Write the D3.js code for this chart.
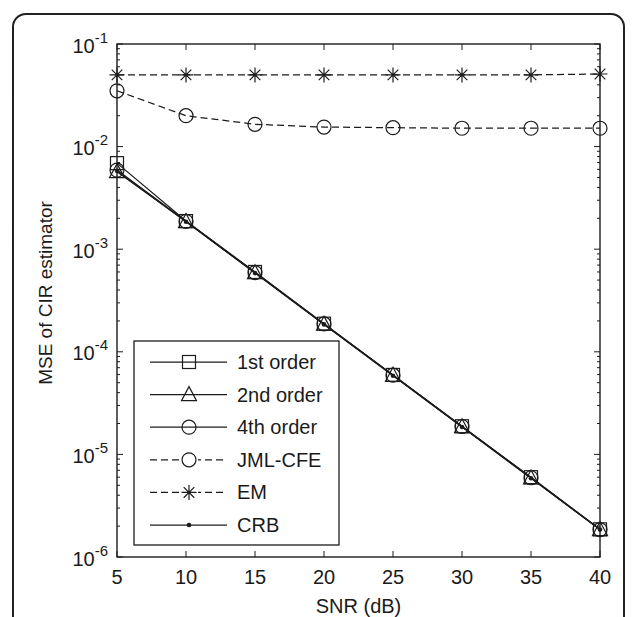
<!DOCTYPE html>
<html>
<head>
<meta charset="utf-8">
<script src="https://cdn.jsdelivr.net/npm/d3@7"></script>
<style>
  html, body { margin: 0; padding: 0; background: #fff; }
  svg { display: block; }
  text { font-family: Arial, "Liberation Sans", Helvetica, sans-serif; fill: #1a1a1a; }
</style>
</head>
<body>
<svg id="chart" width="634" height="617"></svg>
<script>
// SNR values (dB) on the x axis
const snr = [5, 10, 15, 20, 25, 30, 35, 40];

// MSE of the channel impulse response estimator for each method
const firstOrder  = [0.0069, 0.00188, 0.000600, 0.000188, 0.0000595, 0.0000188, 0.00000600, 0.00000186];
const secondOrder = [0.0057, 0.00186, 0.000590, 0.000186, 0.0000590, 0.0000186, 0.00000590, 0.00000185];
const fourthOrder = [0.0059, 0.00187, 0.000592, 0.000187, 0.0000592, 0.0000187, 0.00000592, 0.00000185];
const jmlCfe      = [0.035, 0.020, 0.0165, 0.0155, 0.0153, 0.0151, 0.0151, 0.0151];
const emValues    = [0.050, 0.050, 0.050, 0.050, 0.050, 0.050, 0.050, 0.051];
const crb         = [0.0058, 0.00185, 0.000585, 0.000185, 0.0000585, 0.0000185, 0.00000585, 0.00000185];

const xTicks = [5, 10, 15, 20, 25, 30, 35, 40];
const yExponents = [-1, -2, -3, -4, -5, -6];

const seriesNames = ["1st order", "2nd order", "4th order", "JML-CFE", "EM", "CRB"];
const seriesValues = [firstOrder, secondOrder, fourthOrder, jmlCfe, emValues, crb];
const seriesMarkers = ["square", "triangle", "circle", "circle", "star", "dot"];
const seriesDashed = [false, false, false, true, true, false];

const ink = "#1c1c1c";
const dash = "7,4";
const svg = d3.select("#chart");

// outer rounded frame
svg.append("rect")
  .attr("x", 13).attr("y", 14)
  .attr("width", 611).attr("height", 640)
  .attr("rx", 13).attr("ry", 13)
  .attr("fill", "none").attr("stroke", "#222").attr("stroke-width", 2);

const plot = { left: 117, top: 44, right: 600, bottom: 557 };

const x = d3.scaleLinear().domain([5, 40]).range([plot.left, plot.right]);
const y = d3.scaleLog().domain([1e-6, 1e-1]).range([plot.bottom, plot.top]);

const g = svg.append("g");

// minor ticks for the log axis (inside, on both sides)
const minor = [];
for (let e = -6; e < -1; e++) {
  for (let m = 2; m <= 9; m++) minor.push(m * Math.pow(10, e));
}
const major = yExponents.map(e => Math.pow(10, e));

function tickLines(values, len, side) {
  g.selectAll(null).data(values).enter().append("line")
    .attr("x1", side === "left" ? plot.left : plot.right)
    .attr("x2", side === "left" ? plot.left + len : plot.right - len)
    .attr("y1", d => y(d)).attr("y2", d => y(d))
    .attr("stroke", ink).attr("stroke-width", 1);
}
tickLines(minor, 3, "left");
tickLines(minor, 3, "right");
tickLines(major, 6, "left");
tickLines(major, 6, "right");

// x ticks (inside, top and bottom)
g.selectAll(null).data(xTicks).enter().append("line")
  .attr("x1", d => x(d)).attr("x2", d => x(d))
  .attr("y1", plot.bottom).attr("y2", plot.bottom - 6)
  .attr("stroke", ink).attr("stroke-width", 1);
g.selectAll(null).data(xTicks).enter().append("line")
  .attr("x1", d => x(d)).attr("x2", d => x(d))
  .attr("y1", plot.top).attr("y2", plot.top + 6)
  .attr("stroke", ink).attr("stroke-width", 1);

// axes box
g.append("rect")
  .attr("x", plot.left).attr("y", plot.top)
  .attr("width", plot.right - plot.left).attr("height", plot.bottom - plot.top)
  .attr("fill", "none").attr("stroke", ink).attr("stroke-width", 1.4);

// x tick labels
g.selectAll(null).data(xTicks).enter().append("text")
  .attr("x", d => x(d)).attr("y", plot.bottom + 27)
  .attr("text-anchor", "middle").attr("font-size", 20)
  .text(d => d);

// y tick labels: 10 with a superscript exponent
yExponents.forEach(e => {
  const t = g.append("text")
    .attr("x", plot.left - 9).attr("y", y(Math.pow(10, e)) + 8.5)
    .attr("text-anchor", "end").attr("font-size", 20);
  t.append("tspan").text("10");
  t.append("tspan").attr("dy", -10).attr("font-size", 15).text(e);
});

// axis titles
svg.append("text")
  .attr("x", (plot.left + plot.right) / 2).attr("y", 613)
  .attr("text-anchor", "middle").attr("font-size", 20)
  .text("SNR (dB)");
svg.append("text")
  .attr("transform", `translate(52,293) rotate(-90)`)
  .attr("text-anchor", "middle").attr("font-size", 19)
  .text("MSE of CIR estimator");

// marker drawing
function drawMarker(sel, type) {
  if (type === "square") {
    sel.append("rect").attr("x", -6.5).attr("y", -6.5).attr("width", 13).attr("height", 13)
      .attr("fill", "none").attr("stroke", ink).attr("stroke-width", 1.2);
  } else if (type === "triangle") {
    sel.append("path").attr("d", "M0,-8L7.5,6L-7.5,6Z")
      .attr("fill", "none").attr("stroke", ink).attr("stroke-width", 1.2);
  } else if (type === "circle") {
    sel.append("circle").attr("r", 7)
      .attr("fill", "none").attr("stroke", ink).attr("stroke-width", 1.2);
  } else if (type === "star") {
    const r = 7.5;
    let d = "";
    [0, 45, 90, 135].forEach(a => {
      const rad = a * Math.PI / 180;
      d += `M${-r * Math.cos(rad)},${-r * Math.sin(rad)}L${r * Math.cos(rad)},${r * Math.sin(rad)}`;
    });
    sel.append("path").attr("d", d).attr("stroke", ink).attr("stroke-width", 1.2);
  } else if (type === "dot") {
    sel.append("circle").attr("r", 2.3).attr("fill", ink);
  }
}

const line = d3.line().x((d, i) => x(snr[i])).y(d => y(d));

seriesValues.forEach((vals, k) => {
  g.append("path").datum(vals)
    .attr("d", line)
    .attr("fill", "none").attr("stroke", ink).attr("stroke-width", 1.25)
    .attr("stroke-dasharray", seriesDashed[k] ? dash : null);
  vals.forEach((v, i) => {
    const m = g.append("g").attr("transform", `translate(${x(snr[i])},${y(v)})`);
    drawMarker(m, seriesMarkers[k]);
  });
});

// legend
const lg = svg.append("g");
lg.append("rect")
  .attr("x", 134).attr("y", 341).attr("width", 205).attr("height", 204)
  .attr("fill", "#fff").attr("stroke", ink).attr("stroke-width", 1.3);
seriesNames.forEach((name, k) => {
  const cy = 362 + k * 32.6;
  lg.append("line")
    .attr("x1", 150).attr("x2", 227).attr("y1", cy).attr("y2", cy)
    .attr("stroke", ink).attr("stroke-width", 1.25)
    .attr("stroke-dasharray", seriesDashed[k] ? dash : null);
  const m = lg.append("g").attr("transform", `translate(189,${cy})`);
  m.append("rect").attr("x", -9).attr("y", -9).attr("width", 18).attr("height", 18)
    .attr("fill", seriesDashed[k] ? "#fff" : "none").attr("stroke", "none");
  drawMarker(m, seriesMarkers[k]);
  lg.append("text")
    .attr("x", 237).attr("y", cy + 7).attr("font-size", 20)
    .text(name);
});
</script>
</body>
</html>
